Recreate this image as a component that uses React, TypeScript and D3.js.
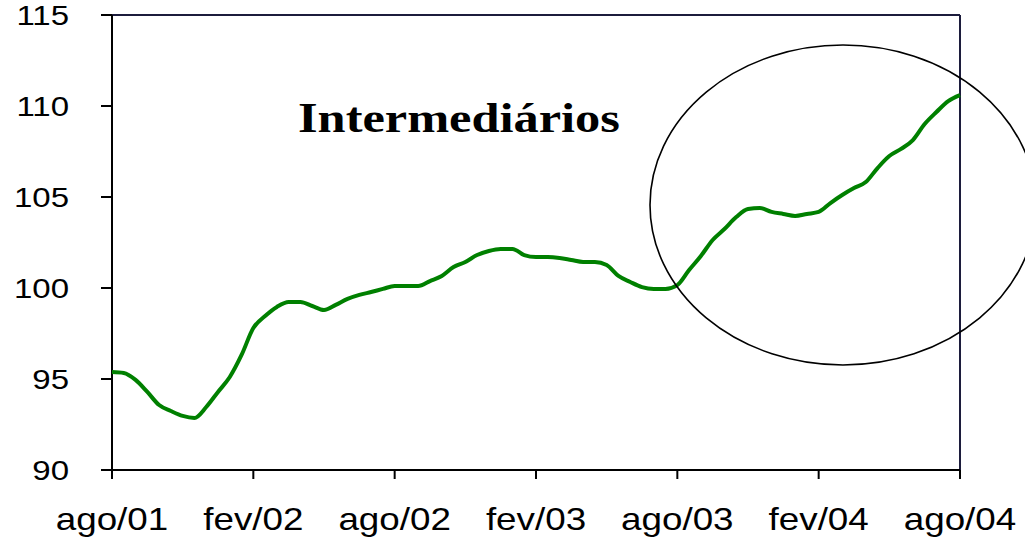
import React from "react";
import * as d3 from "d3";

// Half-month steps from ago/01 (index 0) to ago/04 (index 72)
const values: number[] = [
  95.38, 95.33, 94.95, 94.29, 93.57, 93.24, 92.97, 92.86, 93.46, 94.29,
  95.11, 96.32, 97.8, 98.46, 98.96, 99.23, 99.23, 99.01, 98.79, 99.07,
  99.4, 99.62, 99.78, 99.95, 100.11, 100.11, 100.11, 100.38, 100.66, 101.15,
  101.43, 101.81, 102.03, 102.14, 102.14, 101.81, 101.7, 101.7, 101.65, 101.54,
  101.43, 101.43, 101.26, 100.66, 100.33, 100.05, 99.95, 99.95, 100.16, 100.99,
  101.76, 102.64, 103.24, 103.9, 104.34, 104.4, 104.18, 104.07, 103.96, 104.07,
  104.18, 104.67, 105.11, 105.49, 105.82, 106.59, 107.25, 107.64, 108.13, 109.01,
  109.67, 110.27, 110.6,
];
const xTickIdx: number[] = [0, 12, 24, 36, 48, 60, 72];
const xTickLabels: string[] = ["ago/01", "fev/02", "ago/02", "fev/03", "ago/03", "fev/04", "ago/04"];
const yTicks: number[] = [90, 95, 100, 105, 110, 115];
const title = "Intermediários";

export default function App() {
  const W = 1025, H = 542;
  const left = 112, right = 960, top = 15, bottom = 470;
  const x = d3.scaleLinear().domain([0, 72]).range([left, right]);
  const y = d3.scaleLinear().domain([90, 115]).range([bottom, top]);
  const line = d3.line<number>().x((_, i) => x(i)).y((d) => y(d)).curve(d3.curveMonotoneX);
  const font = "'Liberation Sans', Arial, sans-serif";
  return (
    <svg width={W} height={H} style={{ position: "absolute", left: 0, top: 0, display: "block", background: "#fff" }}>
      {/* frame top & right */}
      <line x1={left} x2={right} y1={top} y2={top} stroke="#1c1c3c" strokeWidth={2} />
      <line x1={right} x2={right} y1={top} y2={bottom} stroke="#1c1c3c" strokeWidth={2} />
      {/* axes */}
      <line x1={left} x2={left} y1={top} y2={bottom} stroke="#000" strokeWidth={2} />
      <line x1={left} x2={right} y1={bottom} y2={bottom} stroke="#000" strokeWidth={2} />
      {yTicks.map((t) => (
        <g key={t}>
          <line x1={left - 11} x2={left} y1={y(t)} y2={y(t)} stroke="#000" strokeWidth={2} />
          <text
            transform={`translate(69,${y(t) + 10.2}) scale(1.2,1)`}
            textAnchor="end"
            fontFamily={font}
            fontSize={27.5}
            fill="#000"
          >
            {t}
          </text>
        </g>
      ))}
      {xTickIdx.map((t, i) => (
        <g key={t}>
          <line x1={x(t)} x2={x(t)} y1={bottom} y2={bottom + 9} stroke="#000" strokeWidth={2} />
          <text
            transform={`translate(${x(t)},530) scale(1.15,1)`}
            textAnchor="middle"
            fontFamily={font}
            fontSize={32}
            fill="#000"
          >
            {xTickLabels[i]}
          </text>
        </g>
      ))}
      <path d={line(values) || ""} fill="none" stroke="#008000" strokeWidth={4} strokeLinejoin="round" />
      <ellipse cx={843} cy={205} rx={193} ry={160} fill="none" stroke="#000" strokeWidth={1.6} />
      <text
        transform="translate(298,132) scale(1.2,1)"
        fontFamily="'Liberation Serif', 'Times New Roman', serif"
        fontWeight="bold"
        fontSize={42}
        fill="#000"
      >
        {title}
      </text>
    </svg>
  );
}
